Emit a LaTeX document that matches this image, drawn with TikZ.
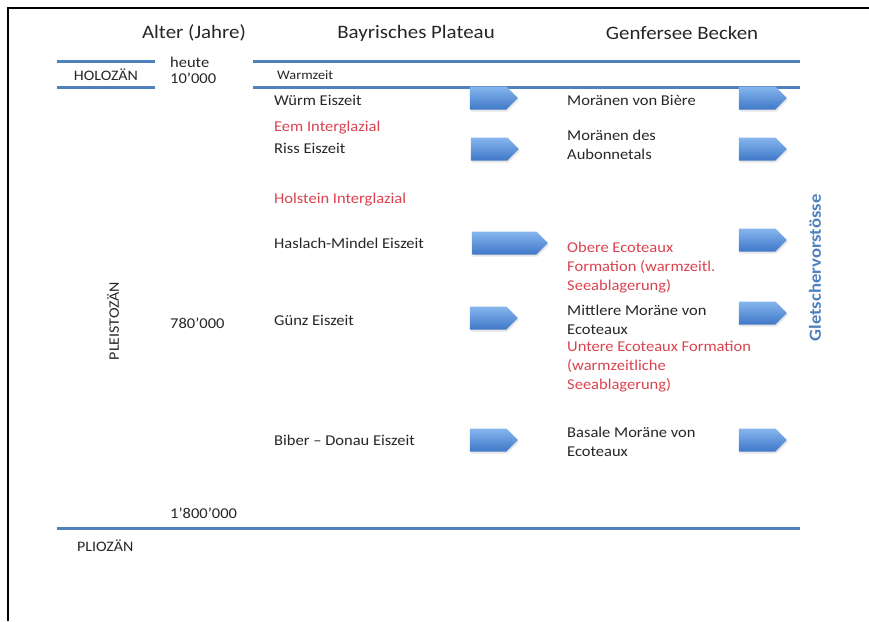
\documentclass[tikz,border=0pt]{standalone}
\usepackage{fontspec}
\setmainfont{Carlito}[FakeStretch=1.1]
\usetikzlibrary{positioning,shapes.symbols,shadows}

\definecolor{linieblau}{HTML}{4F81BD}
\definecolor{textrot}{HTML}{D9434F}
\definecolor{textgrau}{HTML}{262626}
\definecolor{pfeiloben}{HTML}{86B6EE}
\definecolor{pfeilunten}{HTML}{3F78C8}

\begin{document}
\begin{tikzpicture}[x=1pt, y=-1pt,
    txt/.style = {anchor=west, inner sep=0pt, align=left, text=textgrau, font=\fontsize{15}{19}\selectfont},
    warm/.style = {txt, text=textrot},
    kopf/.style = {inner sep=0pt, text=textgrau, font=\fontsize{19}{23}\selectfont},
    klein/.style = {txt, font=\fontsize{13}{16}\selectfont},
    epoche/.style = {txt, font=\fontsize{14.5}{17}\selectfont},
    zeitlinie/.style = {draw=linieblau, line width=3pt},
    vorstoss/.style = {signal, signal to=east, draw=none, minimum width=48pt, minimum height=23pt,
        top color=pfeiloben, bottom color=pfeilunten,
        drop shadow={opacity=0.2, shadow xshift=1pt, shadow yshift=-2pt}}
    ]
\useasboundingbox (0,0) rectangle (869,621);
% frame
\draw[line width=2pt] (8,621) -- (8,8) -- (869,8);

% headers
\node[kopf] (alter)  at (194,33) {Alter (Jahre)};
\node[kopf] (bayern) at (416,33) {Bayrisches Plateau};
\node[kopf] (genf)   at (682,33) {Genfersee Becken};

% time lines
\draw[zeitlinie] (57,61) -- (155,61);
\draw[zeitlinie] (57,87) -- (155,87);
\draw[zeitlinie] (253,61) -- (800,61);
\draw[zeitlinie] (253,87) -- (800,87);
\draw[zeitlinie] (57,528) -- (800,528);

% epochs and ages
\node[epoche, anchor=center] (holo) at (106,75) {HOLOZÄN};
\node[txt] (heute) at (170,62) {heute};
\node[txt] (jung) at (170,78) {10’000};
\node[txt] (mitte) at (170,323) {780’000};
\node[txt] (alt) at (170,513) {1’800’000};
\node[epoche, anchor=center, rotate=90] (pleisto) at (113,321) {PLEISTOZÄN};
\node[epoche] (plio) at (77,546) {PLIOZÄN};
\node[klein] (warmzeit) at (277,75) {Warmzeit};

% Bayrisches Plateau
\node[txt] (wuerm) at (274,100) {Würm Eiszeit};
\node[warm] (eem) at (274,128) {Eem Interglazial};
\node[txt] (riss) at (274,148) {Riss Eiszeit};
\node[warm] (holstein) at (274,200) {Holstein Interglazial};
\node[txt] (mindel) at (274,243) {Haslach-Mindel Eiszeit};
\node[txt] (guenz) at (274,320) {Günz Eiszeit};
\node[txt] (biber) at (274,440) {Biber -- Donau Eiszeit};

\node[vorstoss] (p1) at (488,98) {};
\node[vorstoss] (p2) at (489,149) {};
\node[vorstoss, minimum width=76pt] (p3) at (504,243) {};
\node[vorstoss] (p4) at (488,318) {};
\node[vorstoss] (p5) at (488,440) {};

% Genfersee Becken
\node[txt] (biere) at (567,100) {Moränen von Bière};
\node[txt] (aubonne) at (567,145) {Moränen des\\Aubonnetals};
\node[warm] (obere) at (567,268) {Obere Ecoteaux\\Formation (warmzeitl.\\Seeablagerung)};
\node[txt] (mittlere) at (567,320) {Mittlere Moräne von\\Ecoteaux};
\node[warm] (untere) at (567,367) {Untere Ecoteaux Formation\\(warmzeitliche\\Seeablagerung)};
\node[txt] (basale) at (567,442) {Basale Moräne von\\Ecoteaux};

\node[vorstoss] (q1) at (757,98) {};
\node[vorstoss] (q2) at (757,149) {};
\node[vorstoss] (q3) at (757,240) {};
\node[vorstoss] (q4) at (757,313) {};
\node[vorstoss] (q5) at (757,440) {};

\node[rotate=90, inner sep=0pt, text=linieblau, font=\fontsize{17}{20}\selectfont\bfseries] (gletscher) at (815,268) {Gletschervorstösse};

\end{tikzpicture}
\end{document}
